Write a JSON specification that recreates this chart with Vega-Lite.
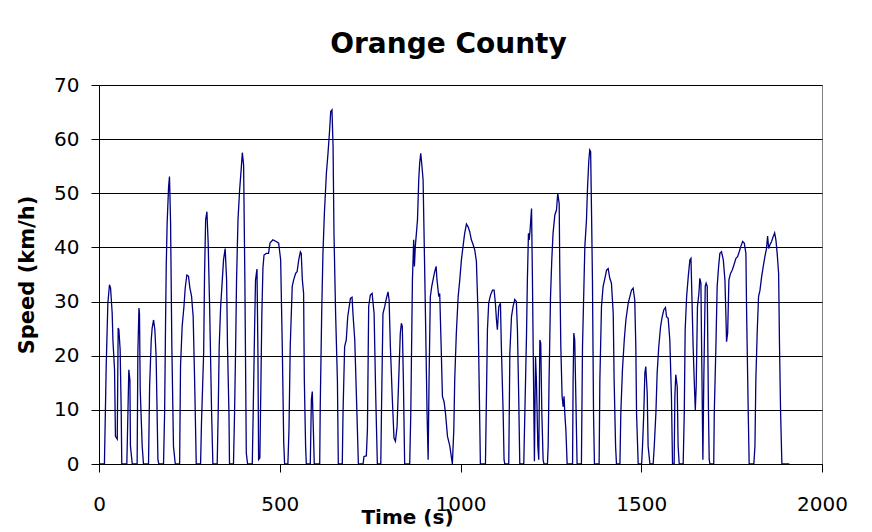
{
  "$schema": "https://vega.github.io/schema/vega-lite/v6.json",
  "autosize": "none",
  "width": 723,
  "height": 379,
  "padding": {"left": 99, "top": 85, "right": 50, "bottom": 68},
  "background": "#ffffff",
  "title": {
    "text": "Orange County",
    "font": "DejaVu Sans",
    "fontSize": 28,
    "fontWeight": "bold",
    "color": "#000000",
    "anchor": "middle",
    "frame": "group",
    "offset": 16,
    "dx": -12
  },
  "config": {
    "font": "DejaVu Sans",
    "view": {"stroke": "#808080", "strokeWidth": 1},
    "axis": {
      "labelFont": "DejaVu Sans",
      "titleFont": "DejaVu Sans",
      "labelColor": "#000000",
      "titleColor": "#000000",
      "domainColor": "#000000",
      "tickColor": "#000000",
      "labelFontSize": 20,
      "titleFontSize": 20,
      "titleFontWeight": "bold"
    }
  },
  "data": {
    "values": [
      {"t":0,"v":0},{"t":15,"v":0},{"t":20,"v":18.3},{"t":24.5,"v":29.7},{"t":29,"v":33.1},{"t":32,"v":32.5},{"t":36.5,"v":27.8},{"t":38.5,"v":22.9},{"t":43,"v":17.4},{"t":45.5,"v":5.1},{"t":50.5,"v":4.6},{"t":53,"v":25.1},{"t":55,"v":24.8},{"t":58.5,"v":21.1},{"t":61.5,"v":9.4},{"t":63,"v":0},
      {"t":77,"v":0},{"t":80,"v":9.4},{"t":82.5,"v":17.4},{"t":85.5,"v":15.5},{"t":87,"v":3.3},{"t":92,"v":0},
      {"t":105.5,"v":0},{"t":107.5,"v":20.5},{"t":110.5,"v":28.8},{"t":112,"v":27.8},{"t":114,"v":13.7},{"t":119.5,"v":3.3},{"t":123,"v":0},
      {"t":137,"v":0},{"t":140,"v":14.3},{"t":144.5,"v":22.9},{"t":147,"v":25.1},{"t":151,"v":26.6},{"t":154.5,"v":24.8},{"t":158,"v":19.9},{"t":163,"v":0.8},{"t":165.5,"v":0},
      {"t":178.5,"v":0},{"t":181.5,"v":9.4},{"t":184,"v":25.4},{"t":186,"v":36.5},{"t":188.5,"v":44.5},{"t":192.5,"v":51.2},{"t":195,"v":53.1},{"t":198,"v":44.5},{"t":201.5,"v":21.7},{"t":206,"v":3.3},{"t":211,"v":0},
      {"t":223,"v":0},{"t":225.5,"v":18},{"t":230,"v":25.4},{"t":235,"v":29.1},{"t":238.5,"v":32.5},{"t":243,"v":34.9},{"t":247.5,"v":34.7},{"t":251.5,"v":32.5},{"t":256,"v":31},{"t":260.5,"v":27.2},{"t":264.5,"v":15.5},{"t":269,"v":0},
      {"t":281,"v":0},{"t":283.5,"v":7.6},{"t":289.5,"v":20.5},{"t":292,"v":35.2},{"t":295,"v":45.1},{"t":298.5,"v":46.6},{"t":302,"v":40.8},{"t":306,"v":29.1},{"t":311.5,"v":9.4},{"t":315,"v":0},
      {"t":327,"v":0},{"t":330,"v":10.6},{"t":332.5,"v":21.7},{"t":336.5,"v":29.1},{"t":340,"v":32.8},{"t":344.5,"v":37.7},{"t":349,"v":39.8},{"t":353,"v":34},{"t":355.5,"v":21.7},{"t":359.5,"v":9.4},{"t":361,"v":0},
      {"t":372,"v":0},{"t":375,"v":9.4},{"t":378,"v":21.7},{"t":380.5,"v":34},{"t":384.5,"v":45.1},{"t":389,"v":50.6},{"t":393.5,"v":54.6},{"t":396.5,"v":57.5},{"t":400,"v":55.2},{"t":403.5,"v":34},{"t":407.5,"v":2},{"t":411,"v":0},
      {"t":424,"v":0},{"t":426.5,"v":9.4},{"t":430.5,"v":25.4},{"t":433,"v":34},{"t":437,"v":36},{"t":439.5,"v":21.7},{"t":441.5,"v":0.8},{"t":445,"v":1.1},{"t":448,"v":15.5},{"t":450.5,"v":27.8},{"t":453.5,"v":36.2},{"t":456.5,"v":38.6},{"t":463,"v":38.9},{"t":469,"v":38.9},{"t":473,"v":40.8},{"t":481,"v":41.4},{"t":490,"v":41.1},
      {"t":497,"v":40.8},{"t":502.5,"v":37.7},{"t":507,"v":21.7},{"t":511,"v":3.9},{"t":513.5,"v":0},
      {"t":522.5,"v":0},{"t":525.5,"v":6.3},{"t":529,"v":21.7},{"t":532,"v":27.8},{"t":534.5,"v":32.8},{"t":538.5,"v":34},{"t":544,"v":35.2},{"t":548,"v":35.5},{"t":552.5,"v":37.7},{"t":557,"v":39.2},{"t":559.5,"v":38.9},{"t":562.5,"v":34},{"t":566,"v":31.5},{"t":568,"v":15.5},{"t":571.5,"v":3.3},{"t":573.5,"v":0},
      {"t":584.5,"v":0},{"t":587.5,"v":11.9},{"t":590,"v":13.4},{"t":593,"v":6.3},{"t":595.5,"v":0},
      {"t":610.5,"v":0},{"t":612,"v":10.6},{"t":616,"v":27.8},{"t":619.5,"v":38.9},{"t":623.5,"v":46.3},{"t":629,"v":53.7},{"t":633.5,"v":57.4},{"t":638,"v":61.7},{"t":641,"v":65.1},{"t":644.5,"v":65.4},{"t":647.5,"v":58.6},{"t":650,"v":42.6},{"t":654.5,"v":27.8},{"t":659.5,"v":15.5},{"t":662,"v":0},
      {"t":673,"v":0},{"t":675,"v":9.4},{"t":679.5,"v":21.7},{"t":684,"v":22.9},{"t":688,"v":27.2},{"t":691.5,"v":28.8},{"t":695.5,"v":30.6},{"t":700,"v":30.8},{"t":702.5,"v":27.8},{"t":707.5,"v":22.9},{"t":713.5,"v":9.4},{"t":717.5,"v":0},
      {"t":730.5,"v":0},{"t":733,"v":1.4},{"t":739.5,"v":1.5},{"t":742.5,"v":6.3},{"t":746,"v":29.1},{"t":750.5,"v":31.2},{"t":755.5,"v":31.5},{"t":761,"v":27.8},{"t":765.5,"v":12.5},{"t":770,"v":0},
      {"t":779.5,"v":0},{"t":782,"v":12.5},{"t":785.5,"v":27.8},{"t":790.5,"v":29.1},{"t":795,"v":30.6},{"t":799.5,"v":31.8},{"t":802.5,"v":30.3},{"t":806,"v":21.7},{"t":811.5,"v":11.9},{"t":816,"v":4.8},{"t":820,"v":4.2},{"t":824.5,"v":6.9},{"t":829,"v":15.5},{"t":833.5,"v":24.2},{"t":836.5,"v":26},{"t":839,"v":25.4},{"t":842,"v":15.5},{"t":845.5,"v":0},
      {"t":859.5,"v":0},{"t":862.5,"v":9.4},{"t":867,"v":34},{"t":870.5,"v":41.4},{"t":872.5,"v":36.5},{"t":875,"v":40.2},{"t":878,"v":42.6},{"t":881,"v":45.1},{"t":884.5,"v":52.5},{"t":887,"v":55.5},{"t":890,"v":57.4},{"t":893.5,"v":54.9},{"t":896.5,"v":52.5},{"t":899,"v":43.2},{"t":903,"v":27.8},{"t":907.5,"v":9.4},{"t":910.5,"v":0.8},
      {"t":913,"v":15.5},{"t":916.5,"v":30.9},{"t":920.5,"v":32.8},{"t":924,"v":34},{"t":928.5,"v":35.5},{"t":932.5,"v":36.5},{"t":935,"v":34},{"t":940,"v":30.9},{"t":942.5,"v":31.5},{"t":946.5,"v":21.7},{"t":950,"v":12.5},{"t":954.5,"v":11.5},{"t":958.5,"v":9.4},{"t":964,"v":5.1},{"t":970.5,"v":3.3},{"t":977.5,"v":0},
      {"t":981.5,"v":6.3},{"t":984,"v":15.5},{"t":988.5,"v":24.2},{"t":993.5,"v":30.9},{"t":998,"v":34},{"t":1002.5,"v":37.7},{"t":1007,"v":40.2},{"t":1011.5,"v":42.6},{"t":1016.5,"v":44.3},{"t":1021,"v":43.8},{"t":1025.5,"v":42.9},{"t":1030,"v":41.4},{"t":1035,"v":40.5},{"t":1039.5,"v":39.5},{"t":1044,"v":37.4},{"t":1048.5,"v":27.8},{"t":1051.5,"v":15.5},{"t":1055,"v":0},
      {"t":1069,"v":0},{"t":1071.5,"v":11.2},{"t":1074.5,"v":24.8},{"t":1078,"v":29.7},{"t":1083,"v":31.2},{"t":1088.5,"v":32.1},{"t":1093,"v":32.1},{"t":1096.5,"v":29.7},{"t":1099.5,"v":26.6},{"t":1102,"v":24.8},{"t":1106,"v":29.1},{"t":1110.5,"v":29.7},{"t":1113,"v":21.7},{"t":1118,"v":9.4},{"t":1120.5,"v":0.8},{"t":1122.5,"v":0},
      {"t":1133.5,"v":0},{"t":1136.5,"v":20.5},{"t":1141,"v":27.2},{"t":1145.5,"v":29.1},{"t":1150,"v":30.4},{"t":1154.5,"v":30},{"t":1157.5,"v":24.8},{"t":1161,"v":12.5},{"t":1164,"v":0},
      {"t":1175,"v":0},{"t":1178,"v":9.4},{"t":1182.5,"v":23.5},{"t":1185,"v":34},{"t":1188,"v":42.6},{"t":1190,"v":41.4},{"t":1192.5,"v":43.2},{"t":1196.5,"v":47.2},{"t":1199,"v":34},{"t":1202,"v":15.5},{"t":1204.5,"v":0.5},{"t":1207.5,"v":19.9},{"t":1210,"v":15.5},{"t":1214,"v":3.3},{"t":1216.5,"v":0.8},{"t":1219.5,"v":22.9},{"t":1222,"v":22.3},{"t":1225,"v":9.4},{"t":1228.5,"v":0.8},{"t":1231,"v":0},
      {"t":1240.5,"v":0},{"t":1242.5,"v":3.3},{"t":1245,"v":15.5},{"t":1249,"v":30.9},{"t":1252.5,"v":37.7},{"t":1256,"v":42.6},{"t":1261,"v":46},{"t":1265.5,"v":46.9},{"t":1269,"v":50},{"t":1273,"v":48.1},{"t":1274.5,"v":37.1},{"t":1277.5,"v":21.7},{"t":1281,"v":12.5},{"t":1284,"v":10.6},{"t":1286.5,"v":12.5},{"t":1288.5,"v":9.4},{"t":1291.5,"v":6.3},{"t":1295,"v":0},
      {"t":1310,"v":0},{"t":1311.5,"v":15.5},{"t":1313.5,"v":24.2},{"t":1316,"v":22.9},{"t":1319,"v":12.5},{"t":1322.5,"v":0},
      {"t":1334.5,"v":0},{"t":1337.5,"v":21.7},{"t":1344,"v":40.2},{"t":1348.5,"v":45.1},{"t":1351.5,"v":51.2},{"t":1355,"v":56.1},{"t":1357.5,"v":58},{"t":1360,"v":57.7},{"t":1362.5,"v":46.3},{"t":1365,"v":34},{"t":1368,"v":9.4},{"t":1370.5,"v":0},
      {"t":1383.5,"v":0},{"t":1385.5,"v":15.5},{"t":1390,"v":29.1},{"t":1394.5,"v":32.8},{"t":1399.5,"v":34.3},{"t":1404,"v":35.8},{"t":1408.5,"v":36.1},{"t":1413,"v":34.3},{"t":1417.5,"v":33.4},{"t":1422.5,"v":27.8},{"t":1425,"v":15.5},{"t":1429,"v":3.3},{"t":1431.5,"v":0},
      {"t":1441,"v":0},{"t":1443.5,"v":9.4},{"t":1448,"v":17.4},{"t":1453,"v":22.9},{"t":1457.5,"v":26.6},{"t":1464,"v":29.7},{"t":1468.5,"v":30.9},{"t":1473,"v":32.1},{"t":1477.5,"v":32.5},{"t":1482,"v":30.3},{"t":1485,"v":21.7},{"t":1487,"v":9.4},{"t":1491.5,"v":0},
      {"t":1501,"v":0},{"t":1503.5,"v":3.3},{"t":1507,"v":9.4},{"t":1510,"v":16.8},{"t":1512.5,"v":18},{"t":1516.5,"v":13.1},{"t":1519,"v":3.3},{"t":1524,"v":0},
      {"t":1533,"v":0},{"t":1536,"v":3.3},{"t":1540.5,"v":9.4},{"t":1544,"v":16.8},{"t":1548.5,"v":21.7},{"t":1553.5,"v":25.4},{"t":1558,"v":27.2},{"t":1562.5,"v":28.5},{"t":1567,"v":28.9},{"t":1570,"v":27.2},{"t":1574.5,"v":26.9},{"t":1579,"v":22.9},{"t":1583.5,"v":12.5},{"t":1586.5,"v":0},
      {"t":1591,"v":0},{"t":1593,"v":12.5},{"t":1595.5,"v":16.5},{"t":1599.5,"v":14.3},{"t":1602,"v":3.3},{"t":1605,"v":0},
      {"t":1616,"v":0},{"t":1619,"v":9.4},{"t":1621.5,"v":24.8},{"t":1625.5,"v":30.9},{"t":1630,"v":34.6},{"t":1634.5,"v":37.7},{"t":1637.5,"v":38},{"t":1639,"v":34},{"t":1643.5,"v":21.7},{"t":1646.5,"v":15.5},{"t":1649.5,"v":10},{"t":1652,"v":14.3},{"t":1655.5,"v":29.1},{"t":1659.5,"v":31.5},{"t":1662,"v":34.3},{"t":1665,"v":33.4},{"t":1667.5,"v":18.6},{"t":1670.5,"v":0.8},{"t":1673,"v":15.5},{"t":1677,"v":32.8},{"t":1679.5,"v":33.4},{"t":1682.5,"v":32.8},{"t":1686,"v":9.4},{"t":1688,"v":0.8},{"t":1690,"v":0},
      {"t":1700.5,"v":0},{"t":1702,"v":9.4},{"t":1706.5,"v":21.7},{"t":1710,"v":32.8},{"t":1714,"v":36.5},{"t":1717.5,"v":38.9},{"t":1722,"v":39.2},{"t":1727,"v":37.7},{"t":1731.5,"v":34},{"t":1734,"v":27.8},{"t":1736,"v":22.6},{"t":1739,"v":24.2},{"t":1742.5,"v":34},{"t":1747,"v":35.2},{"t":1751.5,"v":35.8},{"t":1756.5,"v":36.8},{"t":1762,"v":38},{"t":1766.5,"v":38.3},{"t":1771,"v":39.2},{"t":1775.5,"v":40.2},{"t":1780.5,"v":41.1},{"t":1785,"v":40.8},{"t":1789.5,"v":38.9},{"t":1791.5,"v":27.8},{"t":1796,"v":9.4},{"t":1798.5,"v":0},
      {"t":1811.5,"v":0},{"t":1814.5,"v":3.3},{"t":1817,"v":15.5},{"t":1821,"v":24.8},{"t":1824.5,"v":30.9},{"t":1828.5,"v":32.1},{"t":1833,"v":34.6},{"t":1837.5,"v":36.5},{"t":1842,"v":38.3},{"t":1846.5,"v":39.8},{"t":1849.5,"v":42.1},{"t":1852.5,"v":39.8},{"t":1856,"v":40.5},{"t":1860.5,"v":41.1},{"t":1865,"v":42},{"t":1869,"v":42.7},{"t":1872.5,"v":41.4},{"t":1876,"v":38.9},{"t":1880,"v":35.2},{"t":1882.5,"v":21.7},{"t":1885.5,"v":9.4},{"t":1889,"v":0},{"t":1909.5,"v":0}
    ]
  },
  "mark": {"type": "line", "color": "#000080", "strokeWidth": 1.3, "clip": true},
  "encoding": {
    "x": {
      "field": "t",
      "type": "quantitative",
      "scale": {"domain": [0, 2000], "nice": false, "zero": false},
      "axis": {
        "values": [0, 500, 1000, 1500, 2000],
        "format": "d",
        "grid": false,
        "tickSize": 8,
        "labelPadding": 22,
        "labelFlush": false,
        "labelOverlap": false,
        "title": "Time (s)",
        "titleX": 308,
        "titleY": 59,
        "titleAlign": "center",
        "titleBaseline": "alphabetic",
        "titleAnchor": null
      }
    },
    "y": {
      "field": "v",
      "type": "quantitative",
      "scale": {"domain": [0, 70], "nice": false, "zero": true},
      "axis": {
        "values": [0, 10, 20, 30, 40, 50, 60, 70],
        "format": "d",
        "grid": true,
        "gridColor": "#000000",
        "gridWidth": 1,
        "gridOpacity": 1,
        "tickSize": 8,
        "labelPadding": 12,
        "labelFlush": false,
        "labelOverlap": false,
        "title": "Speed (km/h)",
        "titleFontSize": 21,
        "titleAngle": -90,
        "titleX": -72,
        "titleY": 189.5,
        "titleAlign": "center",
        "titleBaseline": "middle"
      }
    }
  }
}
